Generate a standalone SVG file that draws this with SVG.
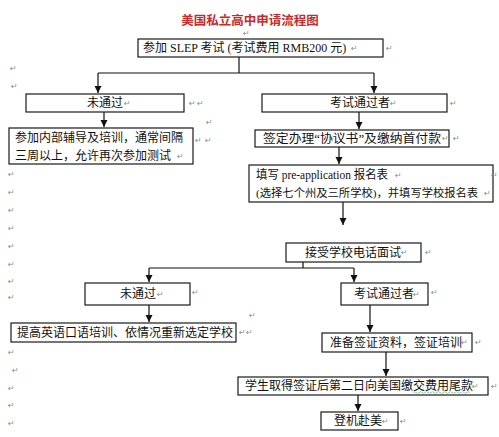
<svg xmlns="http://www.w3.org/2000/svg" width="499" height="437" viewBox="0 0 499 437">
<style>
.bx{fill:#fff;stroke:#1a1a1a;stroke-width:1.2}
.t{font-family:"Liberation Serif","Noto Sans CJK SC",serif;font-size:12px;fill:#111;dominant-baseline:central}
.c{text-anchor:middle}
.pm{font-family:"DejaVu Sans",sans-serif;font-size:8px;fill:#8c8c8c;dominant-baseline:central}
.ln{stroke:#111;stroke-width:1.2;fill:none}
.title{font-family:"Noto Sans CJK SC",sans-serif;font-size:12.5px;font-weight:bold;fill:#c62a2a;text-anchor:middle;dominant-baseline:central}
</style>
<defs>
<marker id="ah" markerUnits="userSpaceOnUse" markerWidth="8" markerHeight="8" refX="7" refY="3.5" orient="auto">
<path d="M0,0 L7,3.5 L0,7 z" fill="#111"/>
</marker>
</defs>
<rect width="499" height="437" fill="#fff"/>
<g id="title">
<text class="title" x="250" y="19">美国私立高中申请流程图</text>
<text class="pm" x="243" y="33">↵</text>
</g>
<g id="connectors">
<path class="ln" d="M239,57 V73 M98,73 H374"/>
<path class="ln" d="M98,73 V93" marker-end="url(#ah)"/>
<path class="ln" d="M374,73 V93" marker-end="url(#ah)"/>
<path class="ln" d="M104,112 V127" marker-end="url(#ah)"/>
<path class="ln" d="M359,112 V129" marker-end="url(#ah)"/>
<path class="ln" d="M339,147 V164" marker-end="url(#ah)"/>
<path class="ln" d="M343,202 V225" marker-end="url(#ah)"/>
<path class="ln" d="M303,262 V268 M149,268 H354"/>
<path class="ln" d="M149,268 V282" marker-end="url(#ah)"/>
<path class="ln" d="M354,268 V282" marker-end="url(#ah)"/>
<path class="ln" d="M149,305 V322" marker-end="url(#ah)"/>
<path class="ln" d="M370,305 V332" marker-end="url(#ah)"/>
<path class="ln" d="M386,352 V376" marker-end="url(#ah)"/>
<path class="ln" d="M358,395 V411" marker-end="url(#ah)"/>
</g>
<g id="n1">
<rect class="bx" x="138" y="39" width="245" height="18"/>
<text class="t" x="143" y="48">参加 SLEP 考试 (考试费用 RMB200 元)</text>
<text class="pm" x="351" y="48">↵</text>
<text class="pm" x="386" y="48">↵</text>
</g>
<g id="n2">
<rect class="bx" x="26" y="94" width="158" height="18"/>
<text class="t c" x="105" y="103">未通过</text>
<text class="pm" x="124" y="103">↵</text>
<text class="pm" x="189" y="103">↵</text>
<text class="pm" x="197" y="103">↵</text>
</g>
<g id="n3">
<rect class="bx" x="262" y="94" width="185" height="18"/>
<text class="t c" x="360" y="103">考试通过者</text>
<text class="pm" x="390" y="103">↵</text>
<text class="pm" x="450" y="103">↵</text>
</g>
<g id="n4">
<rect class="bx" x="9" y="128" width="184" height="36"/>
<text class="t" x="15" y="138">参加内部辅导及培训，通常间隔</text>
<text class="t" x="15" y="156">三周以上，允许再次参加测试</text>
<text class="pm" x="177" y="156">↵</text>
<text class="pm" x="195" y="140">↵</text>
<text class="pm" x="205" y="140">↵</text>
<text class="pm" x="206" y="122">↵</text>
</g>
<g id="n5">
<rect class="bx" x="255" y="130" width="194" height="17"/>
<text class="t" x="263" y="138.5" textLength="178" lengthAdjust="spacingAndGlyphs">签定办理“协议书”及缴纳首付款</text>
<text class="pm" x="442" y="138.5">↵</text>
<text class="pm" x="453" y="138.5">↵</text>
</g>
<g id="n6">
<rect class="bx" x="249" y="165" width="244" height="37"/>
<text class="t" x="256" y="175" textLength="132" lengthAdjust="spacingAndGlyphs">填写 pre-application 报名表</text>
<text class="t" x="256" y="193" style="font-size:11.3px">(选择七个州及三所学校)，并填写学校报名表</text>
<text class="pm" x="395" y="175">↵</text>
<text class="pm" x="484" y="193">↵</text>
<text class="pm" x="491" y="175">↵</text>
</g>
<g id="n7">
<rect class="bx" x="286" y="243" width="135" height="19"/>
<text class="t c" x="353" y="252.5">接受学校电话面试</text>
<text class="pm" x="401" y="252.5">↵</text>
<text class="pm" x="425" y="252.5">↵</text>
</g>
<g id="n8">
<rect class="bx" x="85" y="283" width="105" height="22"/>
<text class="t c" x="138" y="294">未通过</text>
<text class="pm" x="157" y="294">↵</text>
<text class="pm" x="192" y="292">↵</text>
</g>
<g id="n9">
<rect class="bx" x="341" y="283" width="87" height="22"/>
<text class="t c" x="384" y="294">考试通过者</text>
<text class="pm" x="413" y="294">↵</text>
<text class="pm" x="431" y="292">↵</text>
</g>
<g id="n10">
<rect class="bx" x="11" y="323" width="225" height="19"/>
<text class="t" x="17" y="332.5">提高英语口语培训、依情况重新选定学校</text>
<text class="pm" x="239" y="332.5">↵</text>
<text class="pm" x="246" y="332.5">↵</text>
<text class="pm" x="249" y="315">↵</text>
</g>
<g id="n11">
<rect class="bx" x="322" y="333" width="150" height="19"/>
<text class="t c" x="396" y="342.5">准备签证资料，签证培训</text>
<text class="pm" x="461" y="342.5">↵</text>
<text class="pm" x="475" y="342.5">↵</text>
</g>
<g id="n12">
<rect class="bx" x="238" y="377" width="250" height="18"/>
<text class="t" x="245" y="386">学生取得签证后第二日向美国缴交费用尾款</text>
<path d="M413,392.5 q1.5,-1.5 3,0 t3,0 t3,0 t3,0 t3,0 t3,0 t3,0 t3,0 t3,0 t3,0 t3,0 t3,0 t3,0 t3,0 t3,0 t3,0 t3,0 t3,0 t3,0" fill="none" stroke="#7cc47c" stroke-width="0.8"/>
<text class="pm" x="472" y="386">↵</text>
<text class="pm" x="491" y="386">↵</text>
</g>
<g id="n13">
<rect class="bx" x="321" y="412" width="77" height="18"/>
<text class="t c" x="358" y="421">登机赴美</text>
<text class="pm" x="382" y="421">↵</text>
<text class="pm" x="400" y="421">↵</text>
</g>
<g id="marks">
<text class="pm" x="10" y="68">↵</text>
<text class="pm" x="11" y="86">↵</text>
<text class="pm" x="8" y="174">↵</text>
<text class="pm" x="8" y="192">↵</text>
<text class="pm" x="8" y="210">↵</text>
<text class="pm" x="8" y="228">↵</text>
<text class="pm" x="8" y="246">↵</text>
<text class="pm" x="8" y="264">↵</text>
<text class="pm" x="8" y="281">↵</text>
<text class="pm" x="8" y="297">↵</text>
<text class="pm" x="8" y="352">↵</text>
<text class="pm" x="12" y="370">↵</text>
<text class="pm" x="8" y="388">↵</text>
<text class="pm" x="8" y="405">↵</text>
<text class="pm" x="8" y="423">↵</text>
</g>
</svg>
